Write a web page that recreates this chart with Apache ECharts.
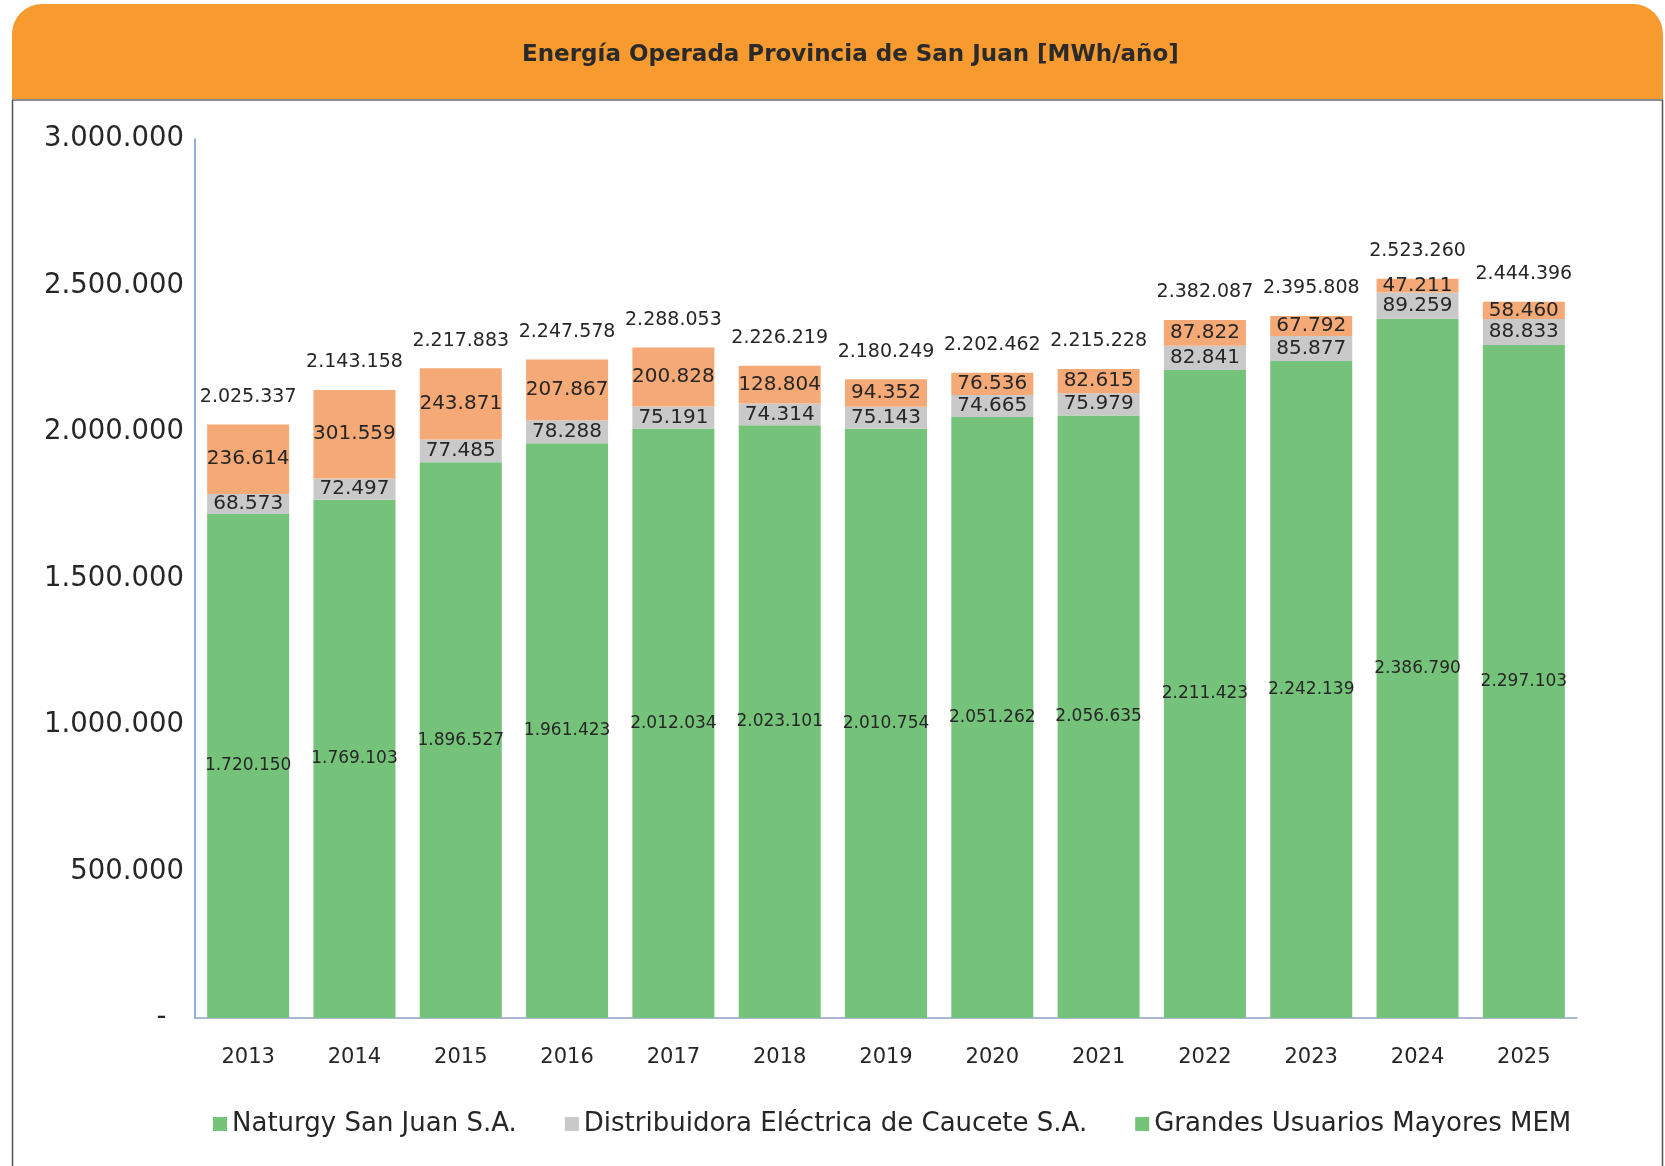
<!DOCTYPE html>
<html lang="es">
<head>
<meta charset="utf-8">
<title>Energía Operada Provincia de San Juan</title>
<script src="https://cdn.jsdelivr.net/npm/echarts@6/dist/echarts.min.js"></script>
<style>
  html, body { margin: 0; padding: 0; background: #ffffff; }
  #chart { width: 1665px; height: 1166px; }
</style>
</head>
<body>
<div id="chart"></div>
<script>
// Years on the category axis
const years = ['2013', '2014', '2015', '2016', '2017', '2018', '2019',
               '2020', '2021', '2022', '2023', '2024', '2025'];

// Energy per agent, MWh/año
const naturgy = [1720150, 1769103, 1896527, 1961423, 2012034, 2023101, 2010754,
                 2051262, 2056635, 2211423, 2242139, 2386790, 2297103];
const caucete = [68573, 72497, 77485, 78288, 75191, 74314, 75143,
                 74665, 75979, 82841, 85877, 89259, 88833];
const grandesUsuarios = [236614, 301559, 243871, 207867, 200828, 128804, 94352,
                         76536, 82615, 87822, 67792, 47211, 58460];

// Published yearly totals
const totals = [2025337, 2143158, 2217883, 2247578, 2288053, 2226219, 2180249,
                2202462, 2215228, 2382087, 2395808, 2523260, 2444396];

// Value-axis ticks
const yTicks = [0, 500000, 1000000, 1500000, 2000000, 2500000, 3000000];

const seriesNames = ['Naturgy San Juan S.A.',
                     'Distribuidora Eléctrica de Caucete S.A.',
                     'Grandes Usuarios Mayores MEM'];

const FONT = '"DejaVu Sans", sans-serif';
const TEXT = '#262626';
const GREEN = '#75C37A';
const GRAY = '#C9C9C9';
const ORANGE = '#F4A976';
const HEADER = '#F79B30';

// Thousands separated with dots; zero shown as a dash
function fmt(v) {
  if (v === 0) return '-';
  return String(Math.round(v)).replace(/\B(?=(\d{3})+(?!\d))/g, '.');
}

const chart = echarts.init(document.getElementById('chart'), null, { renderer: 'canvas' });

const BAR_W = 82;

const option = {
  animation: false,
  backgroundColor: '#ffffff',
  textStyle: { fontFamily: FONT, color: TEXT },
  graphic: [
    // Orange header band with rounded top corners
    {
      type: 'rect', left: 12, top: 4, z: 0,
      shape: { width: 1651, height: 96, r: [30, 30, 0, 0] },
      style: { fill: HEADER }
    },
    // Header separator
    {
      type: 'line', z: 1,
      shape: { x1: 12, y1: 100, x2: 1663, y2: 100 },
      style: { stroke: '#8c8c8c', lineWidth: 2 }
    },
    // Frame sides
    {
      type: 'line', z: 1,
      shape: { x1: 12.5, y1: 100, x2: 12.5, y2: 1166 },
      style: { stroke: '#555555', lineWidth: 1.5 }
    },
    {
      type: 'line', z: 1,
      shape: { x1: 1662.5, y1: 100, x2: 1662.5, y2: 1166 },
      style: { stroke: '#555555', lineWidth: 1.5 }
    },
    // Title
    {
      type: 'text', z: 2, left: 522, top: 44,
      style: {
        text: 'Energía Operada Provincia de San Juan [MWh/año]',
        fontFamily: FONT, fontWeight: 'bold', fontSize: 23, fill: '#2a2a2a'
      }
    }
  ],
  grid: { left: 195, right: 88, top: 139, bottom: 148, containLabel: false },
  legend: {
    left: 208, top: 1106,
    itemWidth: 14, itemHeight: 14, itemGap: 48,
    icon: 'rect',
    textStyle: { fontFamily: FONT, fontSize: 26, color: TEXT },
    data: [
      { name: seriesNames[0], itemStyle: { color: GREEN } },
      { name: seriesNames[1], itemStyle: { color: GRAY } },
      { name: seriesNames[2], itemStyle: { color: GREEN } }
    ]
  },
  xAxis: {
    type: 'category',
    data: years,
    axisLine: { show: true, lineStyle: { color: '#8EA3C4', width: 1.5 } },
    axisTick: { show: false },
    axisLabel: { fontFamily: FONT, fontSize: 21, color: TEXT, margin: 29 }
  },
  yAxis: {
    type: 'value',
    min: yTicks[0],
    max: yTicks[yTicks.length - 1],
    interval: yTicks[1] - yTicks[0],
    axisLine: { show: true, lineStyle: { color: '#6F93CF', width: 1.5 } },
    axisTick: { show: false },
    splitLine: { show: false },
    axisLabel: {
      fontFamily: FONT, fontSize: 27.5, color: TEXT, margin: 11,
      formatter: v => (v === 0 ? '-  ' : fmt(v))
    }
  },
  series: [
    {
      name: seriesNames[0], type: 'bar', stack: 'total', barWidth: BAR_W,
      data: naturgy,
      itemStyle: { color: GREEN },
      label: {
        show: true, position: 'inside', fontFamily: FONT, fontSize: 17, color: TEXT,
        formatter: p => fmt(p.value)
      }
    },
    {
      name: seriesNames[1], type: 'bar', stack: 'total', barWidth: BAR_W,
      data: caucete,
      itemStyle: { color: GRAY },
      label: {
        show: true, position: 'inside', fontFamily: FONT, fontSize: 20, color: TEXT,
        formatter: p => fmt(p.value)
      }
    },
    {
      name: seriesNames[2], type: 'bar', stack: 'total', barWidth: BAR_W,
      data: grandesUsuarios,
      itemStyle: { color: ORANGE },
      label: {
        show: true, position: 'inside', fontFamily: FONT, fontSize: 20, color: TEXT,
        formatter: p => fmt(p.value)
      }
    },
    {
      // Transparent overlay carrying the yearly total above each stack
      name: 'Total', type: 'bar', barWidth: BAR_W, barGap: '-100%',
      data: totals,
      itemStyle: { color: 'rgba(0,0,0,0)' },
      silent: true, z: 1,
      label: {
        show: true, position: 'top', distance: 18,
        fontFamily: FONT, fontSize: 19, color: TEXT,
        formatter: p => fmt(p.value)
      }
    }
  ]
};

chart.setOption(option);
</script>
</body>
</html>
